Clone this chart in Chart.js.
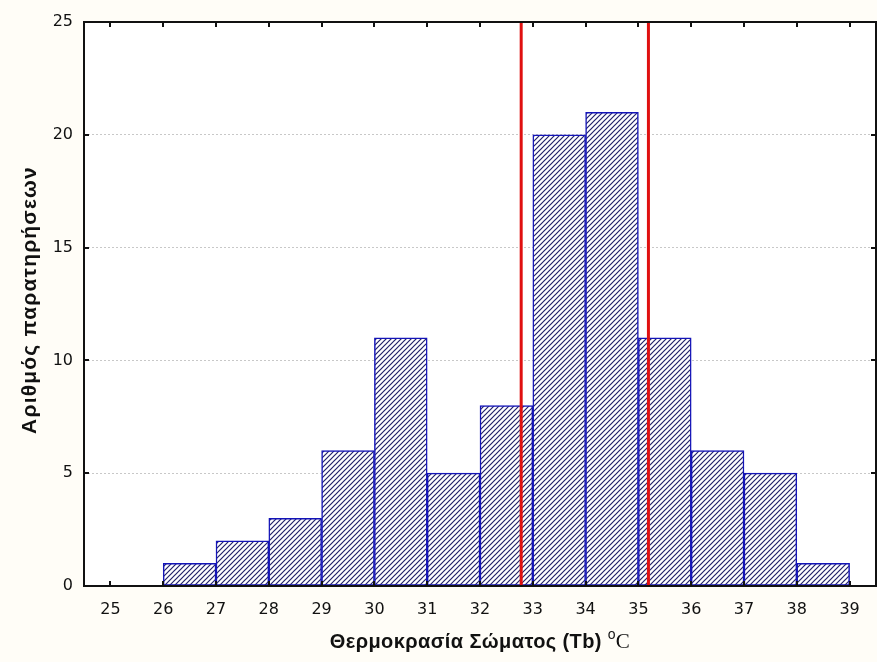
<!DOCTYPE html>
<html>
<head>
<meta charset="utf-8">
<script src="https://cdn.jsdelivr.net/npm/chart.js@4"></script>
<style>
  html, body { margin: 0; padding: 0; background: #fffdf7; }
  #wrap { width: 877px; height: 662px; }
</style>
</head>
<body>
<div id="wrap"><canvas id="histChart" width="877" height="662"></canvas></div>
<script>
// bin centres (bin width 1 °C) and counts
var binCenters = [26.5, 27.5, 28.5, 29.5, 30.5, 31.5, 32.5, 33.5, 34.5, 35.5, 36.5, 37.5, 38.5];
var counts = [1, 2, 3, 6, 11, 5, 8, 20, 21, 11, 6, 5, 1];
var xTicks = [25, 26, 27, 28, 29, 30, 31, 32, 33, 34, 35, 36, 37, 38, 39];
var yTicks = [0, 5, 10, 15, 20, 25];
var markers = [32.78, 35.19];

var xTitle = 'Θερμοκρασία Σώματος (Tb)';
var yTitle = 'Αριθμός παρατηρήσεων';

window.addEventListener('DOMContentLoaded', function() {
    // hatch pattern "////"
    var pc = document.createElement('canvas');
    pc.width = 5;
    pc.height = 5;
    var p = pc.getContext('2d');
    p.fillStyle = '#ffffff';
    p.fillRect(0, 0, 5, 5);
    p.strokeStyle = '#22226a';
    p.lineWidth = 1.2;
    p.beginPath();
    p.moveTo(-1, 6); p.lineTo(6, -1);
    p.moveTo(-1, 1); p.lineTo(1, -1);
    p.moveTo(4, 6); p.lineTo(6, 4);
    p.stroke();
    var ctx = document.getElementById('histChart');
    var hatch = ctx.getContext('2d').createPattern(pc, 'repeat');

    var histData = binCenters.map(function(c, i) { return {x: c, y: counts[i]}; });

    var datasets = [{
        type: 'bar',
        data: histData,
        backgroundColor: hatch,
        borderColor: '#1414b8',
        borderWidth: 1.5,
        borderSkipped: false,
        barPercentage: 1,
        categoryPercentage: 1,
        order: 2
    }];
    markers.forEach(function(m) {
        datasets.push({
            type: 'line',
            data: [{x: m, y: 0}, {x: m, y: 25}],
            borderColor: '#e01010',
            borderWidth: 3,
            pointRadius: 0,
            order: 1
        });
    });

    var frame = {
        id: 'frame',
        beforeDraw: function(chart) {
            var a = chart.chartArea, c = chart.ctx;
            c.save();
            c.fillStyle = '#fffdf7';
            c.fillRect(0, 0, chart.width, chart.height);
            c.fillStyle = '#ffffff';
            c.fillRect(a.left, a.top, a.right - a.left, a.bottom - a.top);
            c.restore();
        },
        afterDraw: function(chart) {
            var a = chart.chartArea, c = chart.ctx;
            var xs = chart.scales.x, ys = chart.scales.y;
            c.save();
            c.strokeStyle = '#111111';
            c.lineWidth = 2;
            c.strokeRect(a.left, a.top, a.right - a.left, a.bottom - a.top);
            c.lineWidth = 2;
            c.beginPath();
            xTicks.forEach(function(v) {
                var px = Math.round(xs.getPixelForValue(v));
                c.moveTo(px, a.bottom); c.lineTo(px, a.bottom - 5);
                c.moveTo(px, a.top); c.lineTo(px, a.top + 5);
            });
            yTicks.forEach(function(v) {
                var py = Math.round(ys.getPixelForValue(v));
                c.moveTo(a.left, py); c.lineTo(a.left + 5, py);
                c.moveTo(a.right, py); c.lineTo(a.right - 5, py);
            });
            c.stroke();

            // axis titles
            c.fillStyle = '#111111';
            c.textBaseline = 'alphabetic';
            c.letterSpacing = '0.4px';
            c.font = 'bold 20px "Liberation Sans", Arial, sans-serif';
            var w1 = c.measureText(xTitle + ' ').width;
            c.letterSpacing = '0px';
            c.font = '20px "Liberation Serif", serif';
            var w2 = c.measureText('C').width + 9;
            var cx = (a.left + a.right) / 2;
            var x0 = cx - (w1 + w2) / 2;
            c.letterSpacing = '0.4px';
            c.font = 'bold 20px "Liberation Sans", Arial, sans-serif';
            c.textAlign = 'left';
            c.fillText(xTitle + ' ', x0, 648);
            c.letterSpacing = '0px';
            c.font = '14px "Liberation Sans", Arial, sans-serif';
            c.fillText('o', x0 + w1, 639);
            c.font = '21px "Liberation Serif", serif';
            c.fillText('C', x0 + w1 + 8, 648);

            c.translate(36, (a.top + a.bottom) / 2 - 4);
            c.rotate(-Math.PI / 2);
            c.textAlign = 'center';
            c.letterSpacing = '1.2px';
            c.font = 'bold 21px "Liberation Sans", Arial, sans-serif';
            c.fillText(yTitle, 0, 0);
            c.restore();
        }
    };

    var histChart = new Chart(ctx, {
        data: { datasets: datasets },
        options: {
            responsive: false,
            animation: false,
            layout: { padding: { top: 22, right: 1, left: 0, bottom: 0 } },
            plugins: {
                legend: { display: false },
                tooltip: { enabled: false }
            },
            scales: {
                x: {
                    type: 'linear',
                    offset: false,
                    min: 24.5,
                    max: 39.5,
                    afterBuildTicks: function(scale) {
                        scale.ticks = xTicks.map(function(v) { return {value: v}; });
                    },
                    afterFit: function(scale) { scale.height = 76; },
                    grid: { display: false, drawTicks: false, offset: false },
                    border: { display: false },
                    ticks: {
                        padding: 14,
                        color: '#111111',
                        font: { family: '"DejaVu Sans", sans-serif', size: 16 },
                        maxRotation: 0,
                        autoSkip: false
                    }
                },
                y: {
                    min: 0,
                    max: 25,
                    afterBuildTicks: function(scale) {
                        scale.ticks = yTicks.map(function(v) { return {value: v}; });
                    },
                    afterFit: function(scale) { scale.width = 84; },
                    grid: {
                        drawTicks: false,
                        color: function(c) {
                            return (c.tick && (c.tick.value === 0 || c.tick.value === 25)) ? 'rgba(0,0,0,0)' : '#c8c8c8';
                        },
                        lineWidth: 1
                    },
                    border: { display: false, dash: [2, 2] },
                    ticks: {
                        padding: 11,
                        color: '#111111',
                        font: { family: '"DejaVu Sans", sans-serif', size: 16 }
                    }
                }
            }
        },
        plugins: [frame]
    });
});
</script>
</body>
</html>
